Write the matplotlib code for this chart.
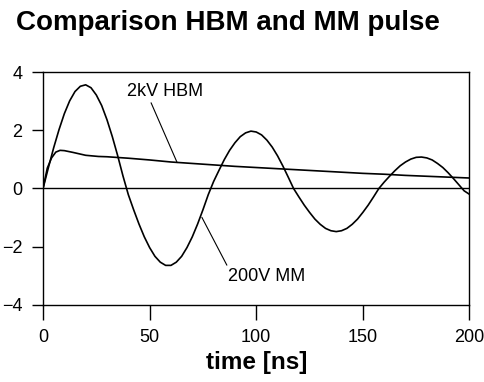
import numpy as np
import matplotlib.pyplot as plt

plt.rcParams['font.family'] = ['Liberation Sans', 'DejaVu Sans']

# 200V MM pulse (every 2.5 ns)
t_mm = [0, 2.5, 5, 7.5, 10, 12.5, 15, 17.5, 20, 22.5, 25, 27.5, 30, 32.5,
        35, 37.5, 40, 42.5, 45, 47.5, 50, 52.5, 55, 57.5, 60, 62.5, 65,
        67.5, 70, 72.5, 75, 77.5, 80, 82.5, 85, 87.5, 90, 92.5, 95, 97.5,
        100, 102.5, 105, 107.5, 110, 112.5, 115, 117.5, 120, 122.5, 125,
        127.5, 130, 132.5, 135, 137.5, 140, 142.5, 145, 147.5, 150, 152.5,
        155, 157.5, 160, 162.5, 165, 167.5, 170, 172.5, 175, 177.5, 180,
        182.5, 185, 187.5, 190, 192.5, 195, 197.5, 200]
v_mm = [0.0, 0.71, 1.40, 2.02, 2.57, 3.01, 3.33, 3.51, 3.56, 3.46, 3.21,
        2.85, 2.36, 1.78, 1.13, 0.43, -0.21, -0.73, -1.22, -1.66, -2.03,
        -2.33, -2.53, -2.64, -2.64, -2.53, -2.33, -2.03, -1.66, -1.22,
        -0.73, -0.21, 0.24, 0.62, 0.99, 1.31, 1.57, 1.78, 1.91, 1.97, 1.94,
        1.84, 1.66, 1.42, 1.12, 0.77, 0.39, 0.0, -0.29, -0.57, -0.82, -1.05,
        -1.23, -1.37, -1.45, -1.48, -1.45, -1.37, -1.23, -1.05, -0.82,
        -0.57, -0.29, 0.0, 0.22, 0.42, 0.61, 0.78, 0.91, 1.01, 1.07, 1.08,
        1.05, 0.98, 0.86, 0.72, 0.54, 0.34, 0.13, -0.08, -0.20]

# 2kV HBM pulse
t_hbm = [0, 2, 4, 6, 8, 10, 14, 20, 26, 30, 40, 50, 60, 70, 80, 90, 100,
         110, 120, 130, 140, 150, 160, 170, 180, 190, 200]
v_hbm = [0.0, 0.70, 1.05, 1.25, 1.31, 1.30, 1.24, 1.14, 1.10, 1.09, 1.04,
         0.98, 0.91, 0.86, 0.81, 0.76, 0.72, 0.68, 0.64, 0.60, 0.56, 0.52,
         0.49, 0.45, 0.42, 0.39, 0.36]

xticks = [0, 50, 100, 150, 200]
yticks = [-4, -2, 0, 2, 4]

fig = plt.figure(figsize=(4.85, 3.82), dpi=100)
ax = fig.add_axes([0.0887, 0.2016, 0.8793, 0.6099])

ax.plot(t_mm, v_mm, color='black', lw=1.2)
ax.plot(t_hbm, v_hbm, color='black', lw=1.2)
ax.axhline(0, color='black', lw=1.0)

ax.set_xlim(0, 200)
ax.set_ylim(-4, 4)
ax.set_xticks(xticks)
ax.set_yticks(yticks)
ax.tick_params(axis='x', direction='out', length=11, width=1, labelsize=13, pad=6)
ax.tick_params(axis='y', direction='out', length=8, width=1, labelsize=13, pad=7)
for s in ax.spines.values():
    s.set_linewidth(1.0)

ax.annotate('2kV HBM', xy=(62.9, 0.89), xytext=(39.4, 3.33),
            fontsize=13, va='center', ha='left',
            arrowprops=dict(arrowstyle='-', color='black', lw=0.8,
                            shrinkA=0, shrinkB=0, relpos=(0.3, 0.0)))
ax.annotate('200V MM', xy=(74.5, -0.99), xytext=(86.9, -3.02),
            fontsize=13, va='center', ha='left',
            arrowprops=dict(arrowstyle='-', color='black', lw=0.8,
                            shrinkA=0, shrinkB=0, relpos=(0.0, 1.0)))

ax.set_xlabel('time [ns]', fontsize=17.5, fontweight='bold', labelpad=4)
fig.text(0.033, 0.94, 'Comparison HBM and MM pulse', fontsize=20,
         fontweight='bold', va='center', ha='left')

fig.savefig('out.png', dpi=100)
